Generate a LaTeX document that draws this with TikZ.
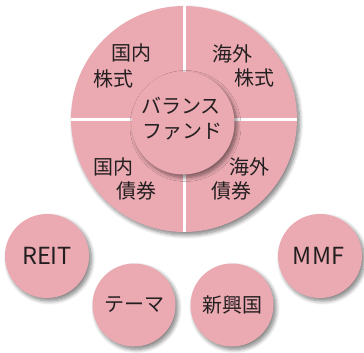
\documentclass[tikz,border=0pt]{standalone}
\usepackage{fontspec}
\setmainfont{Noto Sans CJK JP}
\usetikzlibrary{shadows.blur}
\definecolor{bubblepink}{HTML}{EBAAB2}
\definecolor{inkgray}{HTML}{231F20}
\tikzset{
  bubble/.style={circle, fill=bubblepink, inner sep=0pt, text=inkgray,
    blur shadow={shadow xshift=2.5pt, shadow yshift=-3pt, shadow blur steps=8, shadow blur radius=4pt, shadow opacity=50}},
  lbl/.style={inner sep=0pt, text=inkgray, font=\fontsize{20}{24}\selectfont},
  latin/.style={font=\fontsize{23.5}{26}\selectfont},
  divider/.style={draw=white, line width=3pt}
}
\begin{document}
\begin{tikzpicture}[x=1pt,y=-1pt]
\useasboundingbox (0,0) rectangle (364,353);
\node[bubble, minimum size=226pt] (big) at (184,119) {};
\draw[divider] (big.north) -- (big.south);
\draw[divider] (big.west) -- (big.east);
\node[bubble, minimum size=103pt] (fund) at (183,123) {};
\node[lbl] (f1) at (181,106) {バランス};
\node[lbl] (f2) at (182,132) {ファンド};
\node[lbl] (a1) at (131,53) {国内};
\node[lbl] (a2) at (113,79) {株式};
\node[lbl] (b1) at (232,54) {海外};
\node[lbl] (b2) at (254,78) {株式};
\node[lbl] (c1) at (113,167) {国内};
\node[lbl] (c2) at (136,191) {債券};
\node[lbl] (d1) at (249,167) {海外};
\node[lbl] (d2) at (231,191) {債券};
\node[bubble, minimum size=84pt, latin] (reit) at (47,256) {REIT};
\node[bubble, minimum size=83pt, lbl] (theme) at (134,305) {テーマ};
\node[bubble, minimum size=83pt, lbl] (emerg) at (232,305) {新興国};
\node[bubble, minimum size=84pt, latin] (mmf) at (320,256) {\hspace{-3pt}MMF};
\end{tikzpicture}
\end{document}
